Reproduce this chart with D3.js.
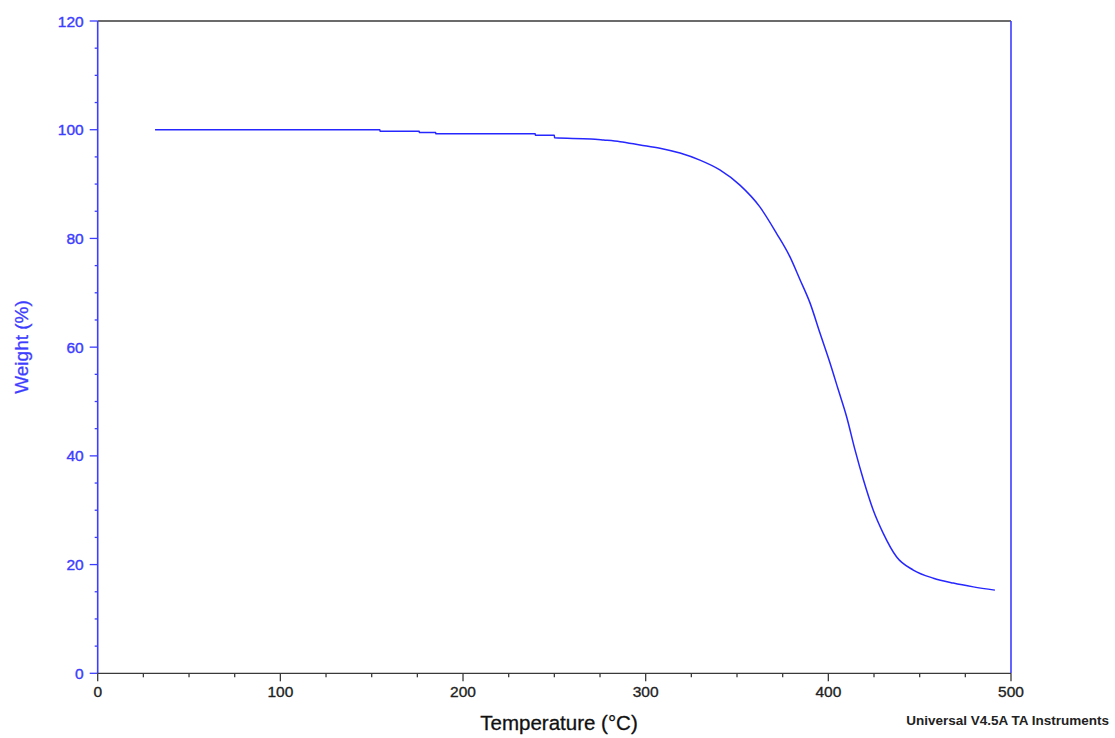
<!DOCTYPE html>
<html><head><meta charset="utf-8">
<script src="https://cdn.jsdelivr.net/npm/d3@7"></script>
<style>body{margin:0;background:#fff}svg{display:block;font-family:"Liberation Sans",Arial,sans-serif}</style>
</head><body><svg id="c" width="1115" height="738"></svg>
<script>
const temperature = [31.4,100,154.5,154.6,176,176.1,185,185.1,239.5,239.6,250,250.1,270,277,286,296.9,307.8,318.8,329.7,340.6,351.6,362.5,371.7,379,384.5,390,395.5,401,405.5,410,414.6,419.2,424.6,430,437.4,446.5,457.5,468.4,479.4,491.2];
const weight =      [100,100,100,99.7,99.7,99.5,99.5,99.25,99.25,99.0,99.0,98.5,98.3,98.1,97.8,97.2,96.6,95.7,94.4,92.6,89.8,85.8,80.9,76.6,72.4,68.1,62.5,57.0,52.1,47.2,41.1,35.6,30.0,25.8,21.4,19.0,17.5,16.6,15.9,15.3];
const xTicks = [0,100,200,300,400,500];
const yTicks = [0,20,40,60,80,100,120];

const svg = d3.select("#c");
const L=97.7, R=1011, T=21, B=673.3;
const blue="#3d3dff", curveCol="#2626ff", dark="#3a3a3a";
const x = d3.scaleLinear().domain([0,500]).range([L,R]);
const y = d3.scaleLinear().domain([0,120]).range([B,T]);

// top border
svg.append("line").attr("x1",L).attr("x2",R).attr("y1",T).attr("y2",T).attr("stroke",dark).attr("stroke-width",1.3);
// right border
svg.append("line").attr("x1",R).attr("x2",R).attr("y1",T).attr("y2",B).attr("stroke",blue).attr("stroke-width",1.6);

// y axis
const yMinor = d3.range(0,121,5).filter(v=>v%20!==0);
const gy = svg.append("g");
gy.append("line").attr("x1",L).attr("x2",L).attr("y1",T).attr("y2",B).attr("stroke",blue).attr("stroke-width",1.6);
gy.selectAll(".mj").data(yTicks).join("line").attr("x1",L-8).attr("x2",L).attr("y1",d=>y(d)).attr("y2",d=>y(d)).attr("stroke",blue).attr("stroke-width",1.3);
gy.selectAll(".mn").data(yMinor).join("line").attr("class","mn").attr("x1",L-3).attr("x2",L).attr("y1",d=>y(d)).attr("y2",d=>y(d)).attr("stroke",blue).attr("stroke-width",1.3);
gy.selectAll("text").data(yTicks).join("text").attr("x",L-14).attr("y",d=>y(d)).attr("dy","0.36em").attr("text-anchor","end")
  .attr("font-size",15.5).attr("fill",blue).attr("stroke",blue).attr("stroke-width",0.4).text(d=>d);

// x axis
const xMinor = d3.range(0,501,25).filter(v=>v%100!==0);
const gx = svg.append("g");
gx.append("line").attr("x1",L).attr("x2",R).attr("y1",B).attr("y2",B).attr("stroke",dark).attr("stroke-width",1.3);
gx.selectAll(".mj").data(xTicks).join("line").attr("x1",d=>x(d)).attr("x2",d=>x(d)).attr("y1",B).attr("y2",B+8).attr("stroke",dark).attr("stroke-width",1.3);
gx.selectAll(".mn").data(xMinor).join("line").attr("class","mn").attr("x1",d=>x(d)).attr("x2",d=>x(d)).attr("y1",B).attr("y2",B+4).attr("stroke",dark).attr("stroke-width",1.3);
gx.selectAll("text").data(xTicks).join("text").attr("x",d=>x(d)).attr("y",697).attr("text-anchor","middle")
  .attr("font-size",15.5).attr("fill","#222").attr("stroke","#222").attr("stroke-width",0.35).text(d=>d);

// axis titles
svg.append("text").attr("x",559).attr("y",730).attr("text-anchor","middle").attr("font-size",20.5).attr("fill","#111").attr("stroke","#111").attr("stroke-width",0.3).text("Temperature (°C)");
svg.append("text").attr("transform","translate(28,347) rotate(-90)").attr("text-anchor","middle").attr("font-size",19).attr("fill",blue).attr("stroke",blue).attr("stroke-width",0.3).text("Weight (%)");
svg.append("text").attr("x",1109).attr("y",725).attr("text-anchor","end").attr("font-size",13.5).attr("font-weight","bold").attr("fill","#222").text("Universal V4.5A TA Instruments");

// curve
const pts = temperature.map((t,i)=>[t,weight[i]]);
svg.append("path").datum(pts).attr("fill","none").attr("stroke",curveCol).attr("stroke-width",1.5)
  .attr("d", d3.line().x(d=>x(d[0])).y(d=>y(d[1])).curve(d3.curveMonotoneX));
</script></body></html>
